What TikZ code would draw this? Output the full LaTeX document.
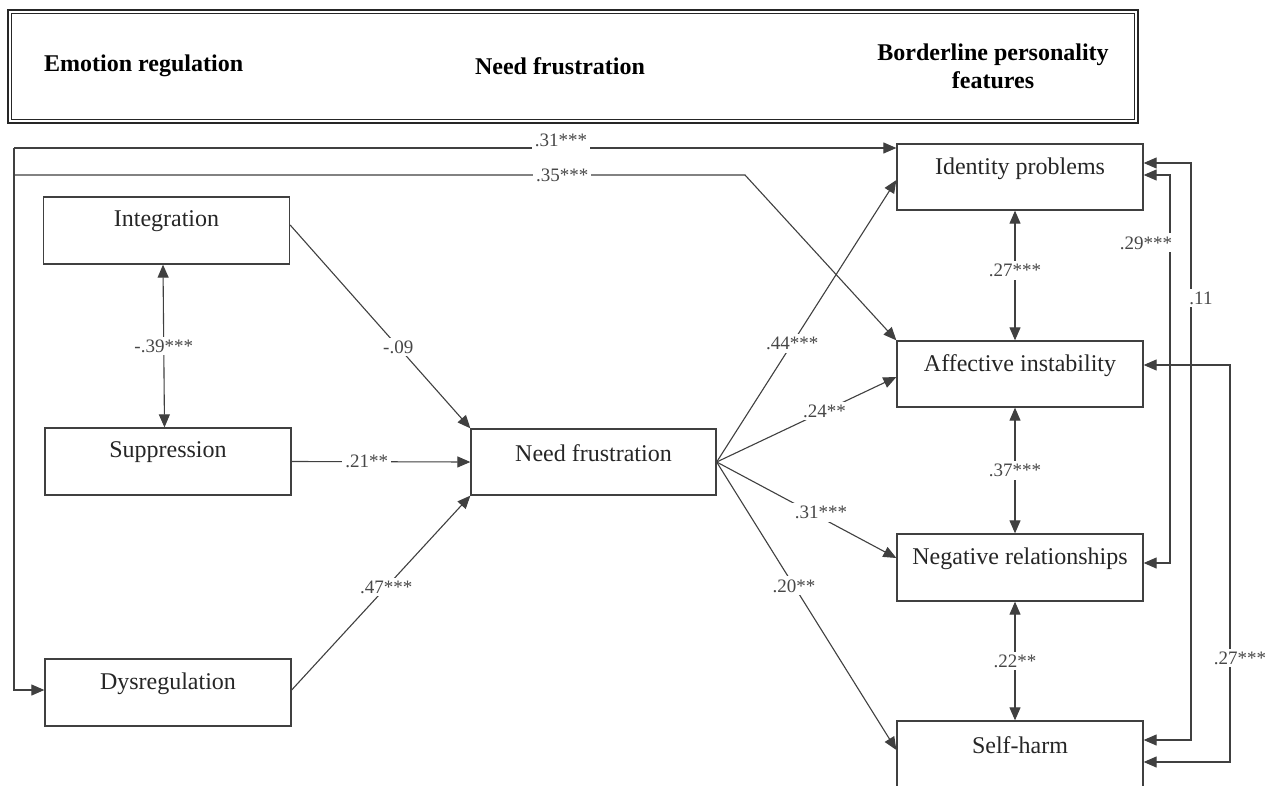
\documentclass[tikz,border=0pt]{standalone}
\usepackage{fontspec}
\setmainfont{Liberation Serif}
\usetikzlibrary{arrows.meta,calc}
\begin{document}
\begin{tikzpicture}[x=1pt,y=-1pt,
  box/.style={draw=black!75, line width=1.3pt, minimum width=246pt, minimum height=67pt, inner sep=0pt},
  txt/.style={font=\fontsize{24}{26}\selectfont, text=black!85, inner sep=0pt},
  hdr/.style={font=\bfseries\fontsize{24}{28}\selectfont, align=center, inner sep=0pt},
  coef/.style={font=\fontsize{19}{20}\selectfont, text=black!72, fill=white, inner sep=3pt},
  con/.style={draw=black!75, line width=1.1pt},
  arr/.style={con, -{Triangle[length=13pt,width=11pt]}},
  bi/.style={con, {Triangle[length=13pt,width=11pt]}-{Triangle[length=13pt,width=11pt]}}
]
\clip (0,0) rectangle (1273,786);
\fill[white] (0,0) rectangle (1273,786);

% header
\draw[line width=2pt, black!85] (8,10) rectangle (1138,123);
\draw[line width=0.8pt, black!85] (11.5,13.5) rectangle (1134.5,119.5);
\node[hdr, anchor=west] (h1) at (44,66) {Emotion regulation};
\node[hdr] (h2) at (560,66) {Need frustration};
\node[hdr] (h3) at (993,66) {Borderline personality\\features};

% boxes
\node[box] (int) at (166.5,230.5) {};
\node[txt] (intT) at ([yshift=-25pt]int.north) {Integration};
\node[box] (sup) at (168,461.5) {};
\node[txt] (supT) at ([yshift=-25pt]sup.north) {Suppression};
\node[box] (dys) at (168,692.5) {};
\node[txt] (dysT) at ([yshift=-25pt]dys.north) {Dysregulation};
\node[box, minimum width=245pt, minimum height=66pt] (nf) at (593.5,462) {};
\node[txt] (nfT) at ([yshift=-25pt]nf.north) {Need frustration};
\node[box, minimum height=66pt] (id) at (1020,177) {};
\node[txt] (idT) at ([yshift=-25pt]id.north) {Identity problems};
\node[box, minimum height=66pt] (aff) at (1020,374) {};
\node[txt] (affT) at ([yshift=-25pt]aff.north) {Affective instability};
\node[box] (neg) at (1020,567.5) {};
\node[txt] (negT) at ([yshift=-25pt]neg.north) {Negative relationships};
\node[box] (sh) at (1020,754.5) {};
\node[txt] (shT) at ([yshift=-25pt]sh.north) {Self-harm};

% left part
\draw[bi] ([xshift=-3.5pt]int.south) -- node[coef]{-.39***} ([xshift=-3.5pt]sup.north);
\draw[arr] ([yshift=5.5pt]int.east) -- node[coef,pos=0.6]{-.09} (nf.north west);
\draw[arr] (sup.east) -- node[coef,pos=0.42]{.21**} (nf.west);
\draw[arr] ([yshift=2.5pt]dys.east) -- node[coef,pos=0.53]{.47***} (nf.south west);

% fan
\draw[arr] (nf.east) -- node[coef,pos=0.42]{.44***} ([yshift=-3pt]id.west);
\draw[arr] (nf.east) -- node[coef,pos=0.6]{.24**} ([yshift=-3pt]aff.west);
\draw[arr] (nf.east) -- node[coef,pos=0.58,yshift=5pt]{.31***} ([yshift=9.5pt]neg.west);
\draw[arr] (nf.east) -- node[coef,pos=0.43]{.20**} ([yshift=4.5pt]sh.west);

% top lines
\coordinate (tl1) at (14,148);
\coordinate (tl2) at (14,175);
\coordinate (bend) at (745,175);
\draw[arr] (tl1) -- node[coef,pos=0.62,yshift=8pt]{.31***} (tl1 -| id.west);
\draw[arr] (tl2) -- node[coef,pos=0.75]{.35***} (bend) -- (aff.north west);
\draw[arr] (tl1) |- ([yshift=2.5pt]dys.west);

% right vertical correlations
\draw[bi] ([xshift=-5pt]id.south) -- node[coef,pos=0.46]{.27***} ([xshift=-5pt]aff.north);
\draw[bi] ([xshift=-5pt]aff.south) -- node[coef]{.37***} ([xshift=-5pt]neg.north);
\draw[bi] ([xshift=-5pt]neg.south) -- node[coef]{.22**} ([xshift=-5pt]sh.north);

% right side loops
\coordinate (c11) at (1191,0);
\coordinate (c29) at (1170,0);
\coordinate (c27) at (1230,0);
\draw[bi] ([yshift=14pt]id.east) -- ([yshift=14pt]id.east -| c11) -- node[coef,pos=0.234,xshift=10pt]{.11} ([yshift=14.5pt]sh.east -| c11) -- ([yshift=14.5pt]sh.east);
\draw[bi] ([yshift=2pt]id.east) -- ([yshift=2pt]id.east -| c29) -- node[coef,pos=0.175,xshift=-24pt]{.29***} ([yshift=4.5pt]neg.east -| c29) -- ([yshift=4.5pt]neg.east);
\draw[bi] ([yshift=9pt]aff.east) -- ([yshift=9pt]aff.east -| c27) -- node[coef,pos=0.738,xshift=10pt]{.27***} ([yshift=-7.5pt]sh.east -| c27) -- ([yshift=-7.5pt]sh.east);
\end{tikzpicture}
\end{document}
